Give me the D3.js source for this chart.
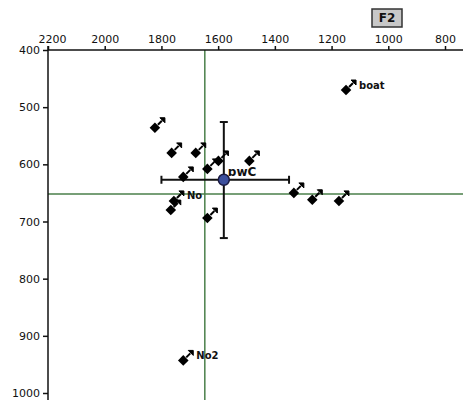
<!DOCTYPE html>
<html>
<head>
<meta charset="utf-8">
<script src="https://cdn.jsdelivr.net/npm/d3@7"></script>
<style>
  body { margin: 0; background: #fff; }
  text { font-family: "DejaVu Sans", sans-serif; font-size: 11px; fill: #111; }
</style>
</head>
<body>
<svg id="chart" width="463" height="400"></svg>
<script>
// vowel tokens: F2 (Hz, horizontal, reversed) and F1 (Hz, vertical, down)
const f2_values = [1823, 1764, 1679, 1638, 1599, 1490, 1723, 1756, 1767, 1638, 1333, 1268, 1174, 1149, 1723];
const f1_values = [536, 580, 580, 608, 594, 594, 622, 664, 680, 694, 650, 662, 664, 470, 943];
const point_labels = ["", "", "", "", "", "", "", "No", "", "", "", "", "", "boat", "No2"];

const f2_ticks = [2200, 2000, 1800, 1600, 1400, 1200, 1000, 800];
const f1_ticks = [400, 500, 600, 700, 800, 900, 1000];

// mean and spread
const mean_f2 = 1580, mean_f1 = 627;
const sd_f2 = [1800, 1350];
const sd_f1 = [526, 729];
const mean_label = "ɒwC";

// green reference lines
const ref_f2 = 1647, ref_f1 = 652;

const svg = d3.select("#chart");
const x = d3.scaleLinear().domain([2200, 800]).range([48, 445]);
const y = d3.scaleLinear().domain([400, 1000]).range([50, 393]);

// green reference lines
svg.append("line")
    .attr("x1", x(ref_f2)).attr("x2", x(ref_f2))
    .attr("y1", y(400)).attr("y2", 400)
    .style("stroke", "#4a7f4a").style("stroke-width", 1.5);
svg.append("line")
    .attr("x1", x(2200)).attr("x2", 463)
    .attr("y1", y(ref_f1)).attr("y2", y(ref_f1))
    .style("stroke", "#4a7f4a").style("stroke-width", 1.5);

// top axis (F2)
let xAxis = d3.axisTop(x).tickValues(f2_ticks).tickFormat(d3.format("d")).tickSize(4).tickPadding(3);
let gx = svg.append("g").attr("transform", "translate(0," + y(400) + ")").call(xAxis);
gx.select(".domain").remove();
gx.append("line").attr("x1", x(2200)).attr("x2", 463).attr("y1", 0).attr("y2", 0)
    .style("stroke", "#111").style("stroke-width", 1.5);
gx.selectAll(".tick line").style("stroke", "#111").style("stroke-width", 1.5);
gx.selectAll(".tick text").style("font-size", "11px").style("font-family", "DejaVu Sans").attr("fill", "#111")
    .attr("dx", d => d == 2200 ? 4 : 0);

// left axis (F1)
let yAxis = d3.axisLeft(y).tickValues(f1_ticks).tickFormat(d3.format("d")).tickSize(5).tickPadding(3);
let gy = svg.append("g").attr("transform", "translate(" + x(2200) + ",0)").call(yAxis);
gy.select(".domain").remove();
gy.append("line").attr("x1", 0).attr("x2", 0).attr("y1", y(400) - 4).attr("y2", 400)
    .style("stroke", "#111").style("stroke-width", 1.5);
gy.selectAll(".tick line").style("stroke", "#111").style("stroke-width", 1.5);
gy.selectAll(".tick text").style("font-size", "11px").style("font-family", "DejaVu Sans").attr("fill", "#111");

// F2 box
let box = svg.append("g").attr("transform", "translate(387,18)");
box.append("rect").attr("x", -15).attr("y", -9).attr("width", 30).attr("height", 18)
    .style("fill", "#c8c8c8").style("stroke", "#333").style("stroke-width", 1.5);
box.append("text").attr("text-anchor", "middle").attr("dominant-baseline", "central")
    .style("font-weight", "bold").style("font-size", "12px").text("F2");

// error bars
const cap = 4;
svg.append("line")
    .attr("x1", x(sd_f2[0])).attr("x2", x(sd_f2[1]))
    .attr("y1", y(mean_f1)).attr("y2", y(mean_f1))
    .style("stroke", "#111").style("stroke-width", 2);
sd_f2.forEach(v => svg.append("line")
    .attr("x1", x(v)).attr("x2", x(v))
    .attr("y1", y(mean_f1) - cap).attr("y2", y(mean_f1) + cap)
    .style("stroke", "#111").style("stroke-width", 2));
svg.append("line")
    .attr("x1", x(mean_f2)).attr("x2", x(mean_f2))
    .attr("y1", y(sd_f1[0])).attr("y2", y(sd_f1[1]))
    .style("stroke", "#111").style("stroke-width", 2);
sd_f1.forEach(v => svg.append("line")
    .attr("x1", x(mean_f2) - cap).attr("x2", x(mean_f2) + cap)
    .attr("y1", y(v)).attr("y2", y(v))
    .style("stroke", "#111").style("stroke-width", 2));

// data points
let data = f2_values.map((f2, i) => ({f2: f2, f1: f1_values[i], label: point_labels[i]}));
let pts = svg.selectAll(".pt").data(data).join("g")
    .attr("class", "pt")
    .attr("transform", d => "translate(" + x(d.f2) + "," + y(d.f1) + ")");
pts.append("path")
    .attr("d", d3.symbol(d3.symbolSquare, 56))
    .attr("transform", "rotate(45)")
    .style("fill", "#000");
// small up-right arrow
pts.append("path")
    .attr("d", "M3,-3 L7,-7")
    .style("fill", "none").style("stroke", "#000").style("stroke-width", 2);
pts.append("path")
    .attr("d", "M5,-10 L10,-10 L10,-5 Z")
    .style("fill", "#000").style("stroke", "#000").style("stroke-width", 1);
pts.append("text")
    .attr("x", 13).attr("y", -5)
    .attr("dominant-baseline", "central")
    .style("font-size", "10px").style("font-weight", "bold")
    .text(d => d.label);

// mean circle
svg.append("circle")
    .attr("cx", x(mean_f2)).attr("cy", y(mean_f1)).attr("r", 5.5)
    .style("fill", "#3c4f9c").style("stroke", "#1a1a40").style("stroke-width", 1.5);
svg.append("text")
    .attr("x", x(mean_f2) + 4).attr("y", y(mean_f1) - 4)
    .style("font-size", "12px").style("font-weight", "bold")
    .text(mean_label);
</script>
</body>
</html>
